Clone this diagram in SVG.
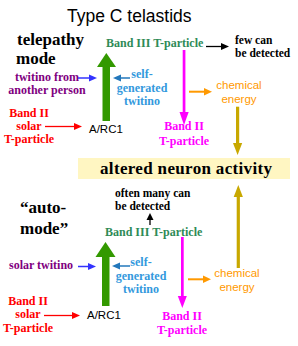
<svg xmlns="http://www.w3.org/2000/svg" width="298" height="346" viewBox="0 0 298 346">
<style>
.s{font-family:"Liberation Serif","Times New Roman",serif;font-weight:bold}
.a{font-family:"Liberation Sans",Arial,sans-serif}
.big{font-size:17px}
.sm{font-size:12px}
.ce{font-size:11.5px}
.m{text-anchor:middle}
.pur{fill:#800080}
.red{fill:#ff0000}
.grn{fill:#2e8b57}
.sky{fill:#3399dd}
.mag{fill:#ff00ff}
.org{fill:#ff9900}
</style>
<rect width="298" height="346" fill="#ffffff"/>
<g id="title"><text class="a" x="67" y="22" font-size="17.5">Type C telastids</text></g>
<g id="box"><rect x="78" y="158" width="212" height="21" fill="#fff6c2"/>
<text class="s big" x="100" y="174" textLength="172">altered neuron activity</text></g>

<g id="telepathy-mode"><text class="s big" x="17" y="45">telepathy</text><text class="s big" x="16" y="64">mode</text></g>
<g id="twitino-other"><text class="s sm m pur" x="47" y="81">twitino from</text><text class="s sm m pur" x="47" y="94">another person</text></g>
<g id="band2-solar-1"><text class="s sm m red" x="29" y="117">Band II</text><text class="s sm m red" x="29" y="130">solar</text><text class="s sm m red" x="29" y="143">T-particle</text></g>
<g id="arc1-1"><text class="a" x="89" y="133" font-size="11.5">A/RC1</text></g>
<g id="band3-1"><text class="s sm grn" x="106" y="47">Band III T-particle</text></g>
<g id="few"><text class="s" x="235" y="44" font-size="11.5">few can</text><text class="s" x="235" y="57" font-size="11.5">be detected</text></g>
<g id="self-1"><text class="s sm m sky" x="142" y="78">self-</text><text class="s sm m sky" x="142" y="91.5">generated</text><text class="s sm m sky" x="142" y="104.5">twitino</text></g>
<g id="chem-1"><text class="a ce m org" x="239" y="89">chemical</text><text class="a ce m org" x="239" y="102.5">energy</text></g>
<g id="band2-1"><text class="s sm m mag" x="184" y="130">Band II</text><text class="s sm m mag" x="184" y="145">T-particle</text></g>

<g id="auto-mode"><text class="s big" x="20" y="213">“auto-</text><text class="s big" x="20" y="234">mode”</text></g>
<g id="often"><text class="s" x="115" y="197" font-size="11.5">often many can</text><text class="s" x="115" y="210" font-size="11.5">be detected</text></g>
<g id="band3-2"><text class="s sm grn" x="105" y="236">Band III T-particle</text></g>
<g id="solar-twitino"><text class="s sm pur" x="9" y="269">solar twitino</text></g>
<g id="self-2"><text class="s sm m sky" x="141" y="266">self-</text><text class="s sm m sky" x="141" y="279.5">generated</text><text class="s sm m sky" x="141" y="293">twitino</text></g>
<g id="band2-solar-2"><text class="s sm m red" x="28" y="305">Band II</text><text class="s sm m red" x="28" y="318">solar</text><text class="s sm m red" x="28" y="332">T-particle</text></g>
<g id="arc1-2"><text class="a" x="87" y="319" font-size="11.5">A/RC1</text></g>
<g id="chem-2"><text class="a ce m org" x="237" y="277">chemical</text><text class="a ce m org" x="237" y="290.5">energy</text></g>
<g id="band2-2"><text class="s sm m mag" x="182" y="320">Band II</text><text class="s sm m mag" x="182" y="334">T-particle</text></g>

<g id="connectors">
<rect x="102.5" y="66" width="7.5" height="55" fill="#339900"/>
<polygon points="106.3,53 97,67 116,67" fill="#339900"/>
<rect x="102" y="256" width="7.5" height="50" fill="#339900"/>
<polygon points="105.5,242 95.5,257 115.5,257" fill="#339900"/>
<line x1="78" y1="78" x2="90" y2="78" stroke="#3333ff" stroke-width="1.5"/>
<polygon points="97,78 89,74.5 89,81.5" fill="#3333ff"/>
<line x1="78" y1="266.5" x2="89" y2="266.5" stroke="#3333ff" stroke-width="1.5"/>
<polygon points="96,266.5 88,263 88,270" fill="#3333ff"/>
<line x1="130" y1="78" x2="120" y2="78" stroke="#2277bb" stroke-width="1.5"/>
<polygon points="113,78 121,74.5 121,81.5" fill="#2277bb"/>
<line x1="130" y1="266" x2="119" y2="266" stroke="#2277bb" stroke-width="1.5"/>
<polygon points="112,266 120,262.5 120,269.5" fill="#2277bb"/>
<line x1="45" y1="126.5" x2="75" y2="126.5" stroke="#ff0000" stroke-width="1.3"/>
<polygon points="82,126.5 74,123 74,130" fill="#ff0000"/>
<line x1="44" y1="315.5" x2="73" y2="315.5" stroke="#ff0000" stroke-width="1.3"/>
<polygon points="80,315.5 72,312 72,319" fill="#ff0000"/>
<line x1="206" y1="46.5" x2="222" y2="46.5" stroke="#000" stroke-width="1.3"/>
<polygon points="229,46.5 221,43 221,50" fill="#000"/>
<line x1="150" y1="225" x2="150" y2="219" stroke="#000" stroke-width="1.3"/>
<polygon points="150,213 146.5,220 153.5,220" fill="#000"/>
<rect x="182.7" y="50" width="2.7" height="64" fill="#ff00ff"/>
<polygon points="184,125 179.5,112 188.7,112" fill="#ff00ff"/>
<rect x="181" y="237" width="2.7" height="61" fill="#ff00ff"/>
<polygon points="182.3,308 177.8,296 186.8,296" fill="#ff00ff"/>
<line x1="189" y1="91.7" x2="205" y2="91.7" stroke="#ff9900" stroke-width="2"/>
<polygon points="212,91.7 204,88 204,95.4" fill="#ff9900"/>
<line x1="188" y1="279.3" x2="204" y2="279.3" stroke="#ff9900" stroke-width="2"/>
<polygon points="211,279.3 203,275.6 203,283" fill="#ff9900"/>
<rect x="236" y="106.7" width="3.2" height="38" fill="#c8a800"/>
<polygon points="237.6,155 233,143 242.2,143" fill="#c8a800"/>
<rect x="236.7" y="196" width="3.2" height="72" fill="#c8a800"/>
<polygon points="238.3,185 233.7,197 242.9,197" fill="#c8a800"/>
</g>
</svg>
